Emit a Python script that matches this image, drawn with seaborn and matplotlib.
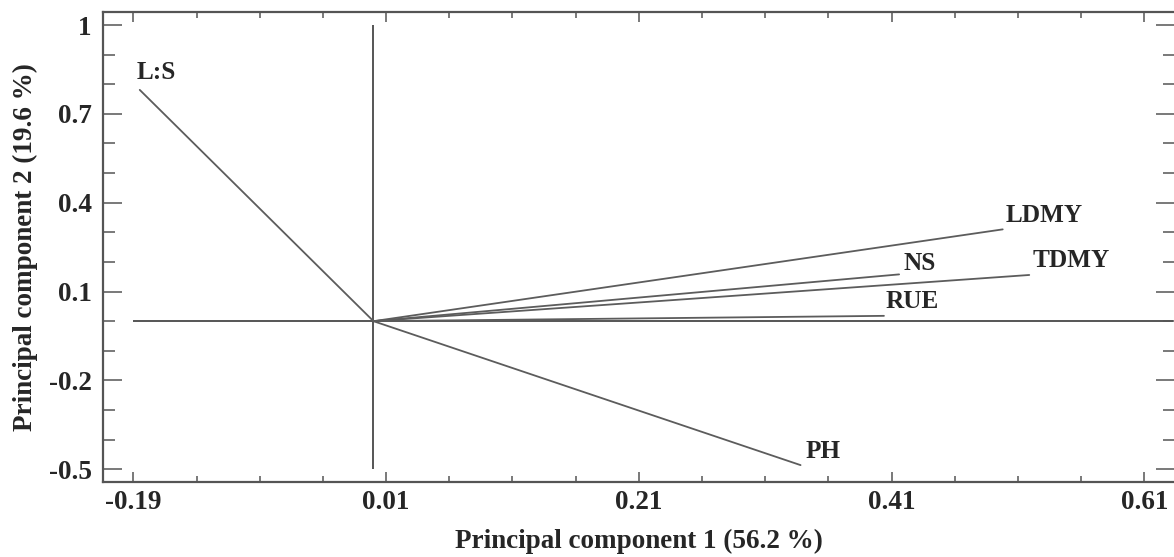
import seaborn as sns
import pandas as pd
import matplotlib.pyplot as plt
from matplotlib.ticker import FixedLocator, FixedFormatter, MultipleLocator

# loading vectors (PC1, PC2)
variables = ["L:S", "LDMY", "NS", "TDMY", "RUE", "PH"]
pc1 = [-0.185, 0.498, 0.416, 0.519, 0.404, 0.338]
pc2 = [0.781, 0.310, 0.158, 0.156, 0.018, -0.486]

# label offsets from the arrow tip (pixels)
label_dx = [-3, 3, 4, 3, 2, 5]
label_dy = [11, 7, 4, 8, 8, 7]

x_ticks = [-0.19, 0.01, 0.21, 0.41, 0.61]
x_tick_labels = ["-0.19", "0.01", "0.21", "0.41", "0.61"]
y_ticks = [1.0, 0.7, 0.4, 0.1, -0.2, -0.5]
y_tick_labels = ["1", "0.7", "0.4", "0.1", "-0.2", "-0.5"]

rows = []
for v, a, b in zip(variables, pc1, pc2):
    rows.append({"variable": v, "pc1": 0.0, "pc2": 0.0})
    rows.append({"variable": v, "pc1": a, "pc2": b})
df = pd.DataFrame(rows)

sns.set_style("ticks")
plt.rcParams["font.family"] = ["Liberation Serif", "DejaVu Serif"]
plt.rcParams["font.weight"] = "bold"
plt.rcParams["axes.unicode_minus"] = False

fig = plt.figure(figsize=(11.74, 5.57), dpi=100)
ax = fig.add_axes([0.0875, 0.1352, 0.9135, 0.8438])

# reference cross through the origin
ax.hlines(0, -0.19, 0.633, color="#555555", lw=1.4)
ax.vlines(0, -0.5, 1.0, color="#555555", lw=1.4)

sns.lineplot(data=df, x="pc1", y="pc2", units="variable", estimator=None,
             sort=False, color="#5c5c5c", lw=1.3, ax=ax)

for v, a, b, dx, dy in zip(variables, pc1, pc2, label_dx, label_dy):
    ax.annotate(v, (a, b), xytext=(dx, dy), textcoords="offset pixels",
                ha="left", va="baseline", fontsize=18.2, fontweight="bold")

ax.set_xlim(-0.2143, 0.6345)
ax.set_ylim(-0.542, 1.045)

ax.xaxis.set_major_locator(FixedLocator(x_ticks))
ax.xaxis.set_major_formatter(FixedFormatter(x_tick_labels))
ax.xaxis.set_minor_locator(FixedLocator([-0.19 + 0.05 * i for i in range(17)]))
ax.yaxis.set_major_locator(FixedLocator(y_ticks))
ax.yaxis.set_major_formatter(FixedFormatter(y_tick_labels))
ax.yaxis.set_minor_locator(MultipleLocator(0.1))

ax.tick_params(axis="both", which="both", direction="in", top=True, right=True,
               color="#555555", width=1.1)
ax.tick_params(axis="x", which="major", length=7.5, pad=6, labelsize=19.5)
ax.tick_params(axis="x", which="minor", length=4.3)
ax.tick_params(axis="y", which="major", length=14, pad=8, labelsize=19.5)
ax.tick_params(axis="y", which="minor", length=8.5)

for s in ax.spines.values():
    s.set_color("#555555")
    s.set_linewidth(1.6)

ax.set_xlabel("Principal component 1 (56.2 %)", fontsize=19.5, fontweight="bold", labelpad=10)
ax.set_ylabel("Principal component 2 (19.6 %)", fontsize=19.5, fontweight="bold", labelpad=8)

fig.savefig("out.png", dpi=100)
